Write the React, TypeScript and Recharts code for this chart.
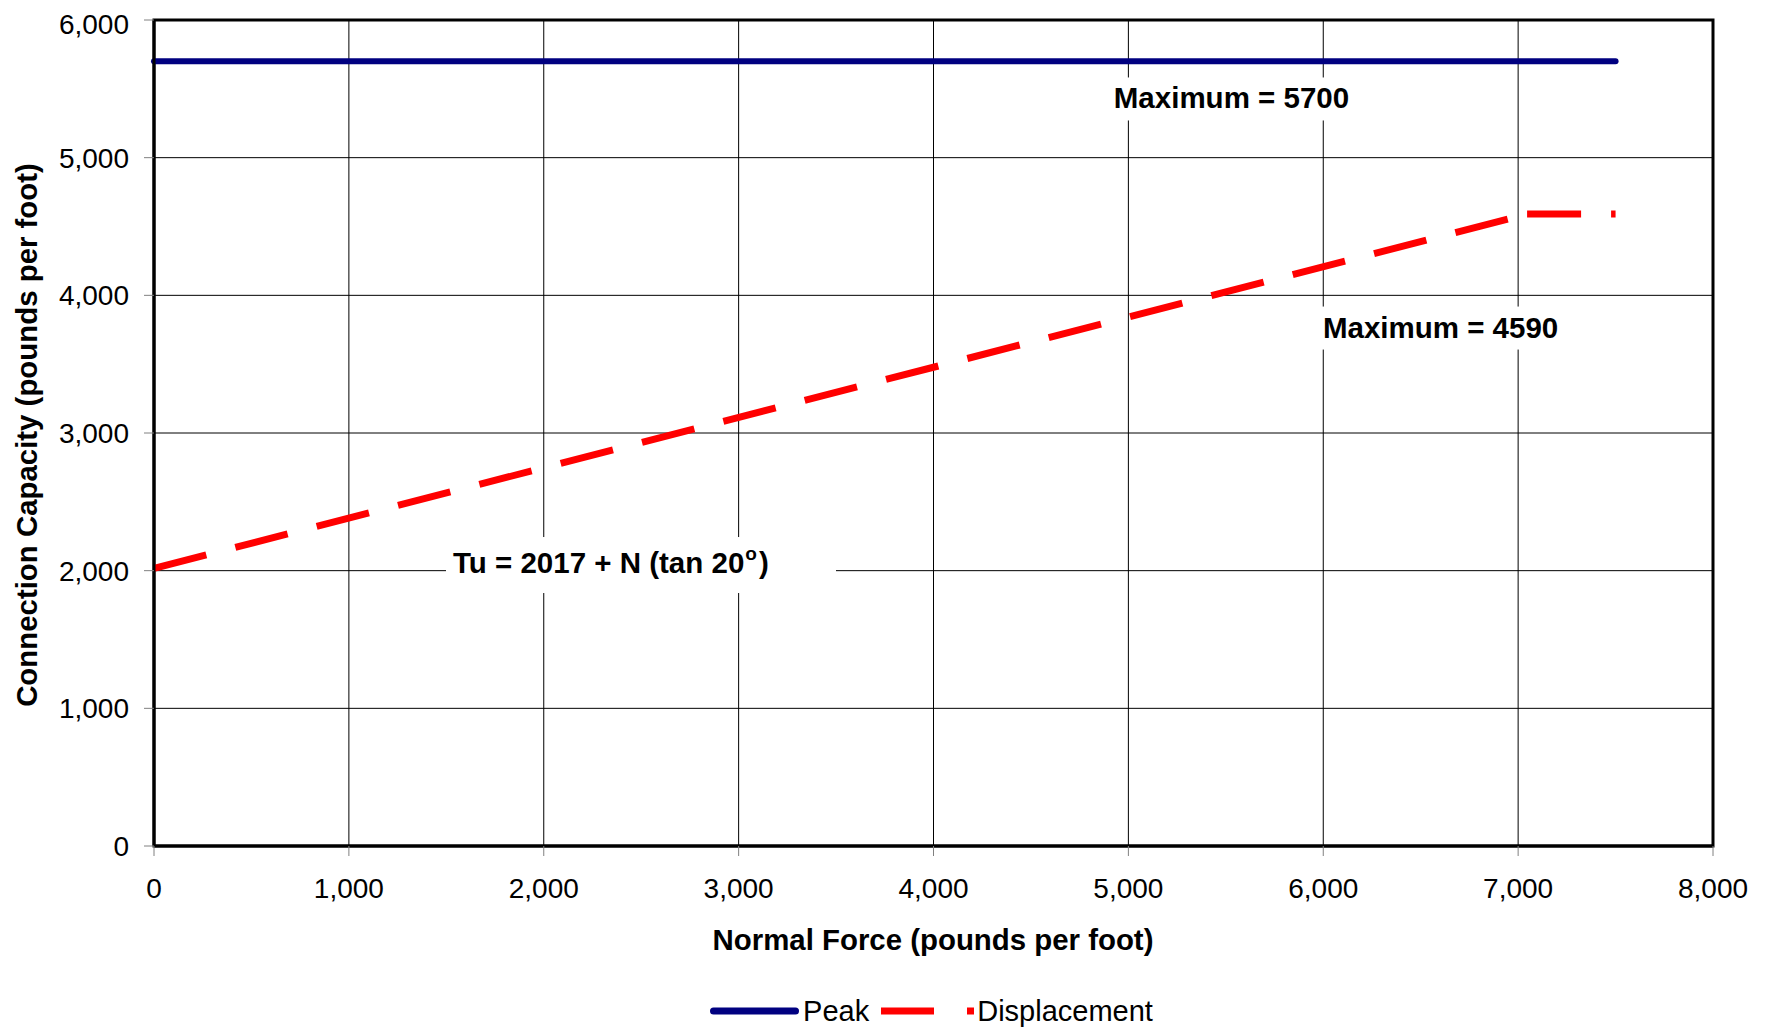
import React from "react";
import {
  LineChart,
  Line,
  XAxis,
  YAxis,
  CartesianGrid,
  ReferenceDot,
  ReferenceArea,
  Legend,
} from "recharts";

const FONT = '"Liberation Sans", Arial, sans-serif';

// axis ticks
const xTicks = [0, 1000, 2000, 3000, 4000, 5000, 6000, 7000, 8000];
const yTicks = [0, 1000, 2000, 3000, 4000, 5000, 6000];

// Peak capacity
const peakForce = [0, 7500];
const peakCapacity = [5700, 5700];

// Displacement-governed capacity, Tu = 2017 + N tan 20°, capped at 4590
const dispForce = [0, 7046, 7500];
const dispCapacity = [2017, 4590, 4590];

// annotations (data units)
const maxNotes = [
  { x: 5529, y: 5430, text: "Maximum = 5700" },
  { x: 6602, y: 3766, text: "Maximum = 4590" },
];
const eqNote = { x: 2499, y: 2041 };

const peakData = peakForce.map((n, i) => ({ n, v: peakCapacity[i] }));
const dispData = dispForce.map((n, i) => ({ n, v: dispCapacity[i] }));
// Excel restarts the dash pattern at each segment, so draw the rise and the cap separately
const dispRise = dispData.slice(0, 2);
const dispCap = dispData.slice(1);

const fmt = (v: number) => v.toLocaleString("en-US");

function MaxLabel({ cx, cy, text }: any) {
  return (
    <g>
      <rect x={cx - 125} y={cy - 21} width={250} height={43} fill="#fff" />
      <text
        x={cx}
        y={cy + 10}
        textAnchor="middle"
        fontFamily={FONT}
        fontWeight="bold"
        fontSize={29.5}
        fill="#000"
      >
        {text}
      </text>
    </g>
  );
}

function EqLabel({ cx, cy }: any) {
  return (
    <g>
      <rect x={cx - 195} y={cy - 28} width={390} height={56} fill="#fff" />
      <text
        x={cx - 188}
        y={cy + 8}
        fontFamily={FONT}
        fontWeight="bold"
        fontSize={29.5}
        fill="#000"
      >
        Tu = 2017 + N (tan 20
        <tspan dx={1} dy={-13} fontSize={19}>
          o
        </tspan>
        <tspan dx={2} dy={13}>)</tspan>
      </text>
    </g>
  );
}

function LegendBox() {
  return (
    <div
      style={{
        display: "flex",
        alignItems: "center",
        justifyContent: "center",
        height: 40,
        boxSizing: "border-box",
        paddingTop: 4,
        paddingLeft: 83,
        fontFamily: FONT,
        fontSize: 29,
        color: "#000",
      }}
    >
      <svg width={89} height={10}>
        <line x1={3.5} y1={5} x2={85.5} y2={5} stroke="#000080" strokeWidth={7} strokeLinecap="round" />
      </svg>
      <span style={{ marginLeft: 4 }}>Peak</span>
      <svg width={93} height={10} style={{ marginLeft: 12 }}>
        <line x1={0} y1={5} x2={93} y2={5} stroke="#ff0000" strokeWidth={7} strokeDasharray="53 33" />
      </svg>
      <span style={{ marginLeft: 3 }}>Displacement</span>
    </div>
  );
}

export default function App() {
  return (
    <LineChart
      width={1764}
      height={1021}
      margin={{ top: 12, right: 59, left: 6, bottom: 0 }}
      style={{ fontFamily: FONT }}
    >
      <CartesianGrid stroke="#000" strokeWidth={1} />
      <XAxis
        type="number"
        dataKey="n"
        domain={[0, 8000]}
        ticks={xTicks}
        tickFormatter={fmt}
        height={143}
        axisLine={{ stroke: "#000", strokeWidth: 3 }}
        tickLine={{ stroke: "#808080" }}
        tickSize={10}
        tickMargin={22}
        tick={{ fill: "#000", fontSize: 28, fontFamily: FONT }}
        label={{
          content: () => (
            <text
              x={925}
              y={942}
              textAnchor="middle"
              fontFamily={FONT}
              fontWeight="bold"
              fontSize={29.4}
              fill="#000"
            >
              Normal Force (pounds per foot)
            </text>
          ),
        }}
      />
      <YAxis
        type="number"
        domain={[0, 6000]}
        ticks={yTicks}
        tickFormatter={fmt}
        width={140}
        axisLine={{ stroke: "#000", strokeWidth: 3 }}
        tickLine={{ stroke: "#808080" }}
        tickSize={10}
        tickMargin={15}
        tick={{ fill: "#000", fontSize: 28, fontFamily: FONT }}
        label={{
          content: () => (
            <text
              x={29}
              y={427}
              transform="rotate(-90 29 427)"
              textAnchor="middle"
              fontFamily={FONT}
              fontWeight="bold"
              fontSize={29.4}
              fill="#000"
            >
              Connection Capacity (pounds per foot)
            </text>
          ),
        }}
      />
      <ReferenceArea
        x1={0}
        x2={8000}
        y1={0}
        y2={6000}
        fill="none"
        stroke="#000"
        strokeWidth={3}
      />
      {maxNotes.map((m) => (
        <ReferenceDot
          key={m.text}
          x={m.x}
          y={m.y}
          r={0}
          shape={(p: any) => <MaxLabel cx={p.cx} cy={p.cy} text={m.text} />}
        />
      ))}
      <ReferenceDot
        x={eqNote.x}
        y={eqNote.y}
        r={0}
        shape={(p: any) => <EqLabel cx={p.cx} cy={p.cy} />}
      />
      <Line
        data={peakData}
        dataKey="v"
        name="Peak"
        stroke="#000080"
        strokeWidth={6}
        strokeLinecap="round"
        dot={false}
        isAnimationActive={false}
      />
      <Line
        data={dispRise}
        dataKey="v"
        name="Displacement"
        stroke="#ff0000"
        strokeWidth={7}
        strokeDasharray="54 30"
        dot={false}
        isAnimationActive={false}
      />
      <Line
        data={dispCap}
        dataKey="v"
        name="Displacement cap"
        legendType="none"
        stroke="#ff0000"
        strokeWidth={7}
        strokeDasharray="54 30"
        dot={false}
        isAnimationActive={false}
      />
      <Legend
        verticalAlign="bottom"
        wrapperStyle={{ left: 0, width: 1764 }}
        content={() => <LegendBox />}
      />
    </LineChart>
  );
}
